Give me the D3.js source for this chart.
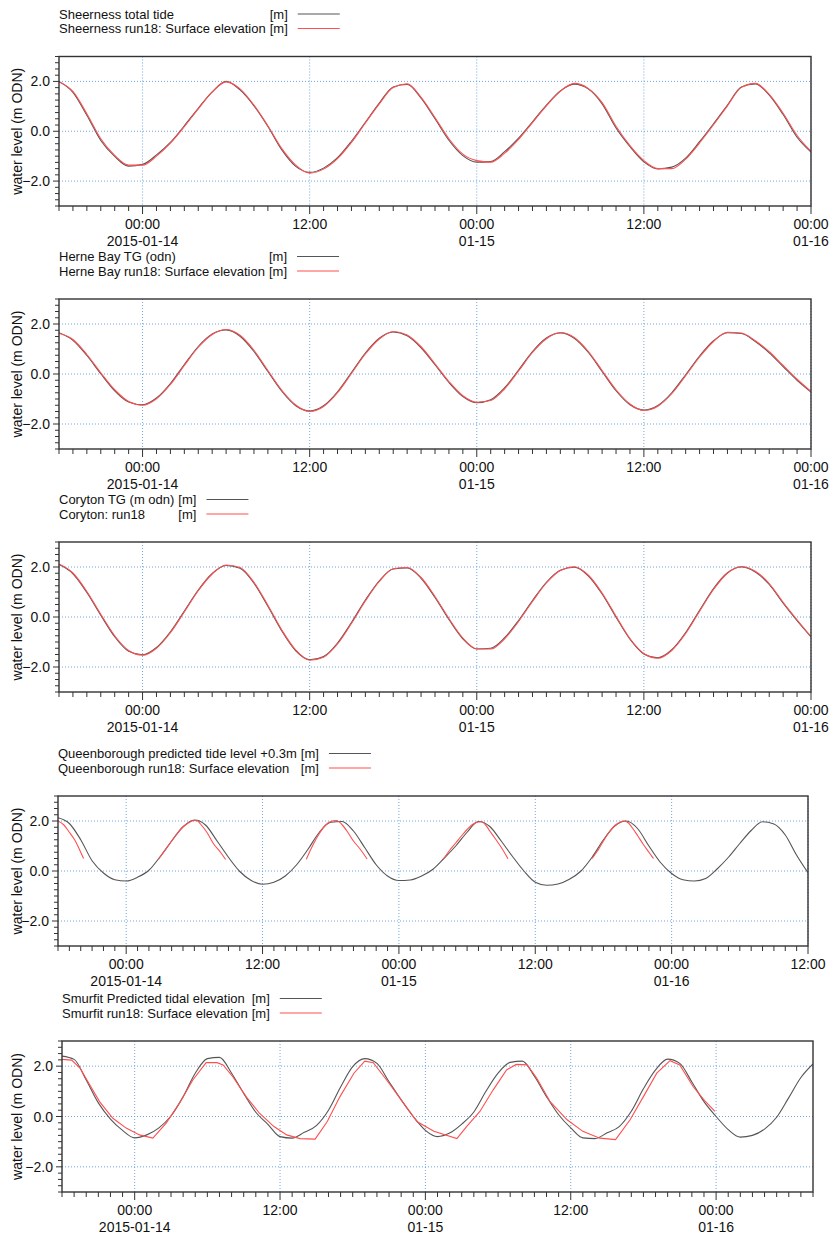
<!DOCTYPE html>
<html><head><meta charset="utf-8">
<script src="https://cdn.jsdelivr.net/npm/d3@7"></script>
<style>
body{margin:0;background:#fff}
svg{display:block}
text{font-family:"Liberation Sans",Arial,sans-serif;fill:#111}
</style>
</head><body>
<svg id="c" width="832" height="1237"></svg>
<script>
// ---------- data ----------
const startTime = "2015-01-13T18:00";
const yTickValues = [-2, 0, 2];
const yAxisLabel = "water level (m ODN)";
const unitLabel = "[m]";

// hourly values from 2015-01-13 18:00
const sheernessObs = [2.00,1.56,0.64,-0.37,-1.01,-1.40,-1.33,-0.95,-0.45,0.22,0.92,1.58,2.00,1.66,1.02,0.19,-0.75,-1.41,-1.65,-1.48,-1.06,-0.40,0.36,1.13,1.78,1.88,1.33,0.50,-0.36,-0.98,-1.24,-1.22,-0.82,-0.28,0.38,1.05,1.62,1.89,1.70,1.10,0.13,-0.62,-1.23,-1.51,-1.44,-1.08,-0.42,0.30,1.05,1.78,1.90,1.45,0.67,-0.24,-0.84];
const sheernessRun = [1.98,1.60,0.70,-0.30,-0.97,-1.36,-1.36,-1.00,-0.48,0.18,0.90,1.57,1.98,1.70,1.05,0.22,-0.70,-1.36,-1.68,-1.52,-1.10,-0.45,0.33,1.10,1.76,1.90,1.36,0.55,-0.30,-0.92,-1.18,-1.24,-0.88,-0.33,0.35,1.02,1.60,1.92,1.72,1.15,0.20,-0.58,-1.18,-1.50,-1.50,-1.12,-0.47,0.26,1.02,1.76,1.92,1.48,0.72,-0.17,-0.80];

const herneObs = [1.65,1.35,0.74,0.01,-0.67,-1.12,-1.23,-0.96,-0.38,0.38,1.10,1.60,1.76,1.51,0.90,0.10,-0.69,-1.27,-1.48,-1.27,-0.71,0.06,0.84,1.43,1.68,1.53,1.05,0.37,-0.34,-0.90,-1.15,-1.03,-0.55,0.16,0.90,1.44,1.64,1.43,0.87,0.10,-0.67,-1.23,-1.44,-1.26,-0.75,-0.03,0.72,1.33,1.65,1.62,1.30,0.85,0.30,-0.25,-0.72];
const herneRun = [1.63,1.38,0.78,0.05,-0.63,-1.10,-1.25,-0.99,-0.42,0.34,1.07,1.58,1.78,1.55,0.95,0.14,-0.65,-1.24,-1.50,-1.30,-0.75,0.02,0.80,1.40,1.70,1.56,1.09,0.41,-0.30,-0.87,-1.13,-1.06,-0.59,0.12,0.86,1.41,1.66,1.46,0.91,0.14,-0.63,-1.20,-1.46,-1.29,-0.79,-0.07,0.68,1.30,1.67,1.64,1.33,0.89,0.34,-0.21,-0.70];

const corytonObs = [2.10,1.73,0.98,0.07,-0.79,-1.37,-1.51,-1.22,-0.59,0.24,1.08,1.74,2.06,1.95,1.35,0.43,-0.56,-1.35,-1.71,-1.58,-1.04,-0.22,0.68,1.45,1.92,1.96,1.55,0.78,-0.10,-0.87,-1.28,-1.25,-0.83,-0.14,0.66,1.39,1.87,1.99,1.65,0.92,-0.01,-0.89,-1.48,-1.63,-1.31,-0.62,0.27,1.14,1.77,2.00,1.80,1.30,0.55,-0.15,-0.80];
const corytonRun = [2.12,1.76,1.02,0.11,-0.75,-1.34,-1.53,-1.25,-0.63,0.20,1.05,1.72,2.08,1.98,1.39,0.47,-0.52,-1.32,-1.73,-1.61,-1.08,-0.26,0.64,1.42,1.93,1.98,1.58,0.82,-0.06,-0.84,-1.27,-1.28,-0.87,-0.18,0.62,1.36,1.86,2.01,1.68,0.96,0.03,-0.86,-1.46,-1.65,-1.34,-0.66,0.23,1.10,1.75,2.02,1.83,1.34,0.59,-0.11,-0.78];

const queenPred = [2.13,1.90,1.25,0.41,-0.08,-0.35,-0.40,-0.25,0.03,0.58,1.20,1.77,2.04,1.83,1.20,0.55,-0.02,-0.38,-0.53,-0.45,-0.20,0.25,0.87,1.55,1.95,1.98,1.60,0.93,0.25,-0.20,-0.38,-0.36,-0.20,0.07,0.52,1.00,1.55,1.98,1.78,1.20,0.58,0.00,-0.45,-0.57,-0.52,-0.33,-0.01,0.55,1.25,1.80,2.00,1.70,1.00,0.35,-0.10,-0.35,-0.40,-0.30,0.08,0.55,1.10,1.62,1.97,1.88,1.44,0.63,-0.07];
// model output only exists above ~0.5 m (null = gap)
const queenRunHours = [0,0.5,1,1.5,2,2.25,null,8.85,9.5,10,10.5,11,11.5,12,12.3,12.5,13.1,13.7,14.3,14.75,null,21.85,22.5,23,23.5,24,24.5,25,25.5,26,26.6,27.2,null,33.9,34.5,35,35.5,36,36.5,37,37.3,37.6,38,38.5,39,39.6,null,47,47.5,48,48.5,49,49.5,49.8,50.2,50.5,51,51.5,52,52.4];
const queenRunLevel = [2.00,1.85,1.55,1.22,0.75,0.50,null,0.47,0.88,1.20,1.50,1.76,1.93,2.02,2.00,1.90,1.55,1.08,0.75,0.46,null,0.47,1.10,1.50,1.82,1.98,2.02,1.85,1.55,1.20,0.87,0.48,null,0.47,0.85,1.12,1.40,1.66,1.87,1.96,1.97,1.86,1.60,1.28,0.95,0.49,null,0.50,0.82,1.20,1.55,1.82,1.96,2.00,1.92,1.75,1.42,1.07,0.75,0.50];

const smurfitPred = [2.40,2.27,1.45,0.54,-0.10,-0.55,-0.85,-0.73,-0.45,0.02,0.79,1.72,2.30,2.35,1.72,0.92,0.17,-0.31,-0.80,-0.86,-0.63,-0.36,0.25,1.17,1.98,2.30,2.11,1.38,0.66,0.00,-0.55,-0.80,-0.66,-0.30,0.18,1.00,1.72,2.15,2.20,1.60,0.79,0.07,-0.45,-0.85,-0.88,-0.65,-0.40,0.21,1.10,1.85,2.28,2.11,1.37,0.59,0.00,-0.52,-0.82,-0.75,-0.50,-0.03,0.75,1.55,2.09];
const smurfitRunHours = [0,0.8,1.5,2.3,3.1,4.2,5.3,6.4,7.5,8.6,9.7,10.8,11.9,12.8,13.3,14.1,15.2,16.3,17.5,18.55,19.65,20.9,21.9,22.95,24.1,25.0,25.7,26.8,27.9,29.3,30.7,32.6,33.4,34.5,35.6,36.7,37.5,38.4,39.2,40.3,41.7,43.0,44.4,45.7,46.9,48.0,49.1,50.2,51.0,52.1,53.0,53.9];
const smurfitRunLevel = [2.27,2.24,1.91,1.25,0.59,-0.07,-0.46,-0.73,-0.86,-0.26,0.53,1.45,2.14,2.14,2.05,1.58,0.79,0.13,-0.40,-0.73,-0.88,-0.90,-0.20,0.79,1.72,2.20,2.14,1.45,0.73,-0.20,-0.59,-0.88,-0.40,0.20,1.06,1.85,2.07,2.05,1.52,0.59,-0.13,-0.59,-0.86,-0.92,-0.13,0.79,1.72,2.22,2.05,1.19,0.66,0.20];

const hourly = arr => arr.map((_, i) => i);

const panels = [
  {names:["Sheerness total tide","Sheerness run18: Surface elevation"],
   obs:[hourly(sheernessObs),sheernessObs], run:[hourly(sheernessRun),sheernessRun], runCurve:"smooth",
   endH:54, top:56.5, bottom:206, left:59, right:811, legX:59},
  {names:["Herne Bay TG (odn)","Herne Bay run18: Surface elevation"],
   obs:[hourly(herneObs),herneObs], run:[hourly(herneRun),herneRun], runCurve:"smooth",
   endH:54, top:299, bottom:449, left:59, right:811, legX:59},
  {names:["Coryton TG (m odn)","Coryton: run18"],
   obs:[hourly(corytonObs),corytonObs], run:[hourly(corytonRun),corytonRun], runCurve:"smooth",
   endH:54, top:542, bottom:692, left:59, right:811, legX:59},
  {names:["Queenborough predicted tide level +0.3m","Queenborough run18: Surface elevation"],
   obs:[hourly(queenPred),queenPred], run:[queenRunHours,queenRunLevel], runCurve:"smooth",
   endH:66, top:796, bottom:946, left:58, right:808, legX:58},
  {names:["Smurfit Predicted tidal elevation","Smurfit run18: Surface elevation"],
   obs:[hourly(smurfitPred),smurfitPred], run:[smurfitRunHours,smurfitRunLevel], runCurve:"linear",
   endH:62, top:1041, bottom:1192, left:62, right:813, legX:62}
];

// ---------- drawing ----------
const GRAY = "#555", RED = "#ff4f4f", GRID = "#6fa6e0";
const t0 = d3.utcParse("%Y-%m-%dT%H:%M")(startTime);
const svg = d3.select("#c");
const fmtHM = d3.utcFormat("%H:%M");
const fmtFull = d3.utcFormat("%Y-%m-%d");
const fmtMD = d3.utcFormat("%m-%d");

panels.forEach(p => {
  const g = svg.append("g");
  const x = d3.scaleUtc().domain([t0, d3.utcHour.offset(t0, p.endH)]).range([p.left, p.right]);
  const y = d3.scaleLinear().domain([-3, 3]).range([p.bottom, p.top]);
  const toPts = ([hs, vs]) => hs.map((h, i) => ({t: h == null ? null : new Date(+t0 + h * 3600e3), v: vs[i]}));

  // grid
  const majors = x.ticks(d3.utcHour.every(12));
  g.append("g").selectAll("line").data(majors).join("line")
    .attr("x1", d => x(d)).attr("x2", d => x(d)).attr("y1", p.top).attr("y2", p.bottom)
    .attr("stroke", GRID).attr("stroke-width", 1).attr("stroke-dasharray", "1,2");
  g.append("g").selectAll("line").data(yTickValues).join("line")
    .attr("x1", p.left).attr("x2", p.right).attr("y1", d => y(d)).attr("y2", d => y(d))
    .attr("stroke", GRID).attr("stroke-width", 1).attr("stroke-dasharray", "1,2");

  // series
  const clipId = "clip" + p.top;
  g.append("clipPath").attr("id", clipId).append("rect")
    .attr("x", p.left).attr("y", p.top).attr("width", p.right - p.left).attr("height", p.bottom - p.top);
  const lineSmooth = d3.line().defined(d => d.t != null && d.v != null)
    .x(d => x(d.t)).y(d => y(d.v)).curve(d3.curveMonotoneX);
  const lineLin = d3.line().defined(d => d.t != null && d.v != null)
    .x(d => x(d.t)).y(d => y(d.v));
  const plot = g.append("g").attr("clip-path", `url(#${clipId})`);
  plot.append("path").attr("d", lineSmooth(toPts(p.obs)))
    .attr("fill", "none").attr("stroke", GRAY).attr("stroke-width", 1.1);
  plot.append("path").attr("d", (p.runCurve === "linear" ? lineLin : lineSmooth)(toPts(p.run)))
    .attr("fill", "none").attr("stroke", RED).attr("stroke-width", 1.1);

  // frame
  g.append("rect").attr("x", p.left).attr("y", p.top)
    .attr("width", p.right - p.left).attr("height", p.bottom - p.top)
    .attr("fill", "none").attr("stroke", "#333").attr("stroke-width", 1.4);

  // x ticks
  const minors = x.ticks(d3.utcHour.every(1));
  g.append("g").selectAll("line").data(minors).join("line")
    .attr("x1", d => x(d)).attr("x2", d => x(d))
    .attr("y1", p.bottom).attr("y2", d => p.bottom + (d.getUTCHours() % 12 === 0 ? 8 : 5))
    .attr("stroke", "#333").attr("stroke-width", 1);
  let firstMidnight = true;
  majors.forEach(d => {
    const xx = x(d);
    g.append("text").attr("x", xx).attr("y", p.bottom + 23).attr("text-anchor", "middle")
      .attr("font-size", 14).text(fmtHM(d));
    if (d.getUTCHours() === 0) {
      g.append("text").attr("x", xx).attr("y", p.bottom + 39.5).attr("text-anchor", "middle")
        .attr("font-size", 14).text(firstMidnight ? fmtFull(d) : fmtMD(d));
      firstMidnight = false;
    }
  });

  // y ticks
  const yMinor = d3.range(-3, 3.001, 0.25);
  g.append("g").selectAll("line").data(yMinor).join("line")
    .attr("x1", p.left).attr("x2", d => p.left - (Math.abs(d % 1) < 1e-6 && Math.abs(d) % 2 < 1e-6 ? 6 : 4))
    .attr("y1", d => y(d)).attr("y2", d => y(d))
    .attr("stroke", "#333").attr("stroke-width", 1);
  g.append("g").selectAll("text").data(yTickValues).join("text")
    .attr("x", p.left - 9).attr("y", d => y(d) + 5).attr("text-anchor", "end")
    .attr("font-size", 14).text(d => d3.format(".1f")(d));
  g.append("text")
    .attr("transform", `translate(22,${(p.top + p.bottom) / 2}) rotate(-90)`)
    .attr("text-anchor", "middle").attr("font-size", 14).text(yAxisLabel);

  // legend
  const leg = g.append("g");
  const rowsY = [p.top - 38, p.top - 23.5];
  const nameEls = p.names.map((n, i) => leg.append("text").attr("x", p.legX).attr("y", rowsY[i])
    .attr("font-size", 13).attr("xml:space", "preserve").text(n));
  const maxW = d3.max(nameEls, el => el.node().getComputedTextLength());
  const unitX = p.legX + maxW + 4;
  [GRAY, RED].forEach((c, i) => {
    const u = leg.append("text").attr("x", unitX).attr("y", rowsY[i]).attr("font-size", 13).text(unitLabel);
    const uEnd = unitX + u.node().getComputedTextLength();
    leg.append("line").attr("x1", uEnd + 10).attr("x2", uEnd + 52)
      .attr("y1", rowsY[i] - 4.5).attr("y2", rowsY[i] - 4.5).attr("stroke", c).attr("stroke-width", 1.1);
  });
});
</script>
</body></html>
